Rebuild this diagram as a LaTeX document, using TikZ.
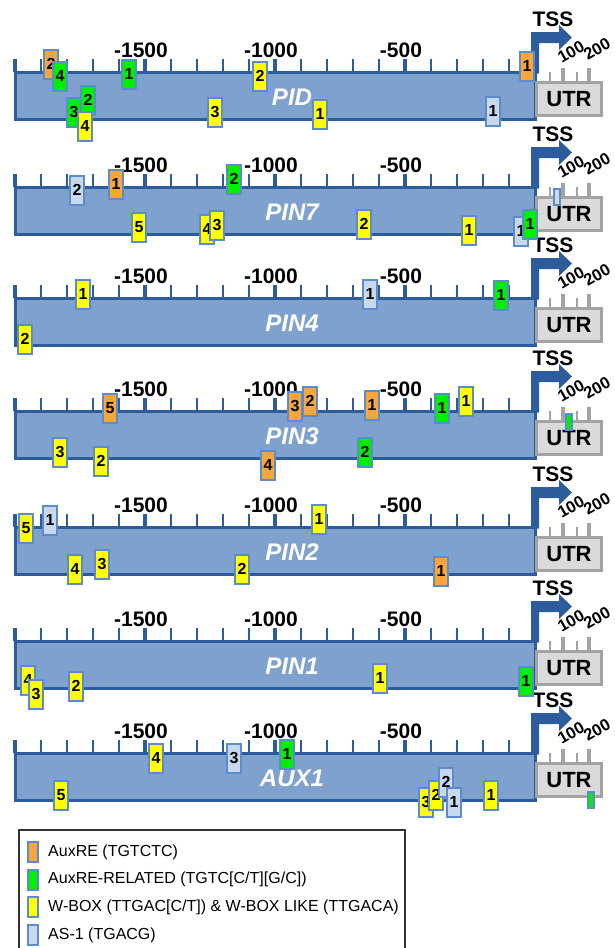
\documentclass[tikz,border=0pt]{standalone}
\usepackage{fontspec}
\setmainfont{Liberation Sans}
\usepackage{tikz}
\usetikzlibrary{positioning,calc}
\definecolor{barblue}{HTML}{7EA1CE}
\definecolor{darkblue}{HTML}{2C5C9C}
\definecolor{mkline}{HTML}{5B8CCB}
\definecolor{auxre}{HTML}{F8A63A}
\definecolor{auxrel}{HTML}{00F000}
\definecolor{wbox}{HTML}{FFFF00}
\definecolor{asone}{HTML}{C8D8EE}
\definecolor{utrgray}{HTML}{A3A3A3}
\definecolor{utrfill}{HTML}{DADADA}
\tikzset{
  bar/.style={draw=darkblue,fill=barblue,line width=3pt,minimum width=520pt,minimum height=47.5pt,inner sep=0pt},
  gene/.style={text=white,inner sep=0pt,font=\fontsize{24}{24}\selectfont\bfseries\itshape},
  scalelab/.style={inner sep=0pt,font=\fontsize{21}{21}\selectfont\bfseries},
  tick/.style={darkblue,line width=2pt},
  bigtick/.style={darkblue,line width=3.5pt},
  tsslab/.style={inner sep=0pt,font=\fontsize{21}{21}\selectfont\bfseries},
  utr/.style={draw=utrgray,fill=utrfill,line width=3pt,minimum width=65pt,minimum height=33pt,inner sep=0pt,font=\fontsize{22}{22}\selectfont\bfseries},
  utrtick/.style={utrgray,line width=2pt},
  utrbig/.style={utrgray,line width=3.5pt},
  utrlab/.style={inner sep=0pt,rotate=30,font=\fontsize{16.5}{16.5}\selectfont\bfseries},
  mk/.style={draw=mkline,line width=2pt,minimum width=14pt,minimum height=29pt,inner sep=0pt,font=\fontsize{16}{16}\selectfont\bfseries},
  ora/.style={mk,fill=auxre},
  grn/.style={mk,fill=auxrel},
  yel/.style={mk,fill=wbox},
  lbl/.style={mk,fill=asone},
  spot/.style={draw=mkline,line width=1.5pt,minimum width=6pt,minimum height=16pt,inner sep=0pt},
  key/.style={draw=mkline,line width=2pt,minimum width=10pt,minimum height=20pt,inner sep=0pt},
  keytext/.style={anchor=west,inner sep=0pt,font=\fontsize{16}{16}\selectfont},
}
\begin{document}
\begin{tikzpicture}[x=1pt,y=-1pt]
\useasboundingbox (0,0) rectangle (615,948);

% promoter bars, scale, TSS and UTR
\foreach \T/\g/\n in {72/PID/pid,187/PIN7/pin7,298/PIN4/pin4,411/PIN3/pin3,527/PIN2/pin2,641/PIN1/pin1,753/AUX1/aux1}{
  \node[bar] (\n-bar) at (275,\T+23.75) {};
  \foreach \k in {1,...,19} \draw[tick] ({15+26*\k},\T) -- ++(0,-13);
  \foreach \k in {0,5,10,15} \draw[bigtick] ({15+26*\k},\T) -- ++(0,-13);
  \node[scalelab] (\n-m1500) at (141,\T-22) {-1500};
  \node[scalelab] (\n-m1000) at (271,\T-22) {-1000};
  \node[scalelab] (\n-m500) at (401,\T-22) {-500};
  \node[gene] (\n-name) at (292,\T+25) {\g};
  % TSS arrow
  \fill[darkblue] (531,\T+1.5) -- (531,\T-40) -- (559,\T-40) -- (559,\T-47) -- (572,\T-34.5)
    -- (559,\T-22) -- (559,\T-29) -- (539,\T-29) -- (539,\T+1.5) -- cycle;
  \node[tsslab] (\n-tss) at (553,\T-53) {TSS};
  % UTR
  \draw[utrtick] (550,\T+9) -- (550,\T);
  \draw[utrtick] (577,\T+9) -- (577,\T);
  \draw[utrbig] (563,\T+9) -- (563,\T-4);
  \draw[utrbig] (589,\T+9) -- (589,\T-4);
  \node[utr] (\n-utr) at (569,\T+27) {UTR};
  \node[utrlab] (\n-l100) at (571,\T-20) {100};
  \node[utrlab] (\n-l200) at (597,\T-23) {200};
}

% PID
\node[ora] (pid-o2) at (51,64) {2};
\node[grn] (pid-g4) at (60,76) {4};
\node[grn] (pid-g1) at (129,74) {1};
\node[yel] (pid-y2) at (260,76) {2};
\node[grn] (pid-g3) at (74,112) {3};
\node[grn] (pid-g2) at (88,100) {2};
\node[yel] (pid-y4) at (85,126) {4};
\node[yel] (pid-y3) at (215,112) {3};
\node[yel] (pid-y1) at (320,114) {1};
\node[lbl] (pid-a1) at (493,111) {1};
\node[ora] (pid-o1) at (527,66) {1};

% PIN7
\node[lbl] (pin7-a2) at (77,190) {2};
\node[ora] (pin7-o1) at (116,184) {1};
\node[grn] (pin7-g2) at (234,179) {2};
\node[yel] (pin7-y5) at (139,227) {5};
\node[yel] (pin7-y4) at (207,229) {4};
\node[yel] (pin7-y3) at (217,225) {3};
\node[yel] (pin7-y2) at (364,224) {2};
\node[yel] (pin7-y1) at (469,230) {1};
\node[lbl] (pin7-a1) at (521,231) {1};
\node[grn] (pin7-g1) at (530,224) {1};
\node[spot,fill=asone] (pin7-utr-a) at (557,197) {};

% PIN4
\node[yel] (pin4-y1) at (83,294) {1};
\node[lbl] (pin4-a1) at (370,294) {1};
\node[grn] (pin4-g1) at (501,295) {1};
\node[yel] (pin4-y2) at (25,339) {2};

% PIN3
\node[ora] (pin3-o5) at (110,408) {5};
\node[ora] (pin3-o3) at (295,406) {3};
\node[ora] (pin3-o2) at (310,401) {2};
\node[ora] (pin3-o1) at (372,405) {1};
\node[grn] (pin3-g1) at (442,408) {1};
\node[yel] (pin3-y1) at (466,401) {1};
\node[yel] (pin3-y3) at (60,452) {3};
\node[yel] (pin3-y2) at (101,461) {2};
\node[ora] (pin3-o4) at (268,465) {4};
\node[grn] (pin3-g2) at (365,452) {2};
\node[spot,fill=auxrel] (pin3-utr-g) at (569,422) {};

% PIN2
\node[yel] (pin2-y5) at (26,528) {5};
\node[lbl] (pin2-a1) at (50,520) {1};
\node[yel] (pin2-y1) at (319,519) {1};
\node[yel] (pin2-y4) at (75,569) {4};
\node[yel] (pin2-y3) at (102,564) {3};
\node[yel] (pin2-y2) at (242,569) {2};
\node[ora] (pin2-o1) at (441,571) {1};

% PIN1
\node[yel] (pin1-y4) at (28,680) {4};
\node[yel] (pin1-y3) at (36,694) {3};
\node[yel] (pin1-y2) at (76,686) {2};
\node[yel] (pin1-y1) at (380,678) {1};
\node[grn] (pin1-g1) at (526,681) {1};

% AUX1
\node[yel] (aux1-y4) at (156,758) {4};
\node[lbl] (aux1-a3) at (234,758) {3};
\node[grn] (aux1-g1) at (287,754) {1};
\node[yel] (aux1-y5) at (61,795) {5};
\node[yel] (aux1-y3) at (426,802) {3};
\node[yel] (aux1-y2) at (436,795) {2};
\node[lbl] (aux1-a2) at (446,782) {2};
\node[lbl] (aux1-a1) at (454,802) {1};
\node[yel] (aux1-y1) at (491,795) {1};
\node[spot,fill=auxrel] (aux1-utr-g) at (591,800) {};

% legend
\node[draw=black!80,line width=1.5pt,anchor=north west,minimum width=386pt,minimum height=150pt] (legend) at (18,829) {};
\node[key,fill=auxre] (k1) at (33,852) {};
\node[key,fill=auxrel,below=5.7pt of k1] (k2) {};
\node[key,fill=wbox,below=5.7pt of k2] (k3) {};
\node[key,fill=asone,below=5.7pt of k3] (k4) {};
\node[keytext,right=9pt of k1] (t1) {AuxRE (TGTCTC)};
\node[keytext,right=9pt of k2] (t2) {AuxRE-RELATED (TGTC[C/T][G/C])};
\node[keytext,right=9pt of k3] (t3) {W-BOX (TTGAC[C/T]) \& W-BOX LIKE (TTGACA)};
\node[keytext,right=9pt of k4] (t4) {AS-1 (TGACG)};

\end{tikzpicture}
\end{document}
